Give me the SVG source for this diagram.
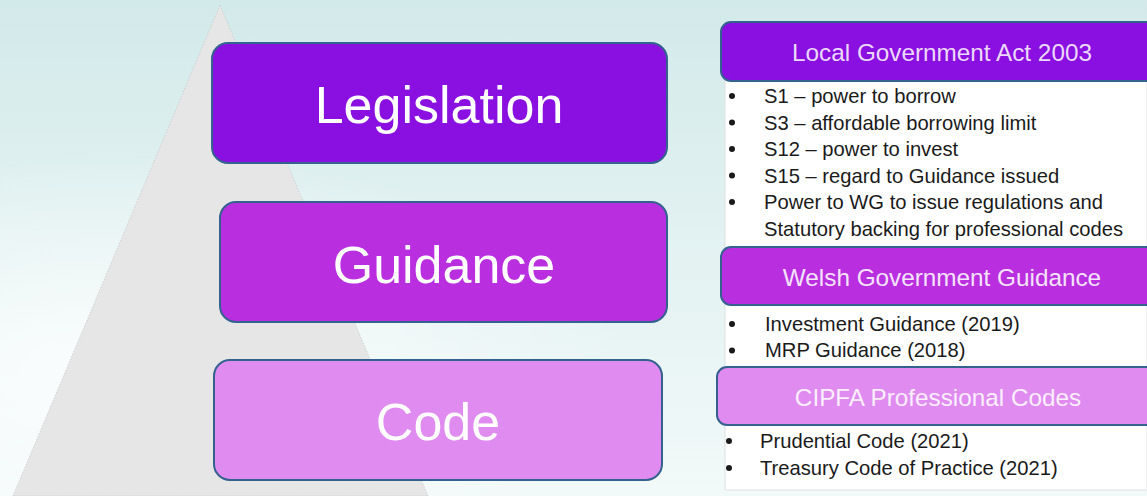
<svg xmlns="http://www.w3.org/2000/svg" width="1147" height="496" viewBox="0 0 1147 496">
<defs>
<linearGradient id="bg" x1="0" y1="0" x2="0" y2="1">
<stop offset="0" stop-color="#d3eaea"/>
<stop offset="0.6" stop-color="#e6f3f3"/>
<stop offset="1" stop-color="#f2f9f9"/>
</linearGradient>
<radialGradient id="glow" cx="0.1" cy="0.75" r="0.45">
<stop offset="0" stop-color="#ffffff" stop-opacity="0.8"/>
<stop offset="1" stop-color="#ffffff" stop-opacity="0"/>
</radialGradient>
<style>
.box{stroke:#33628f;stroke-width:2}
.lvl1{fill:#8a10e2}
.lvl2{fill:#b92fe0}
.lvl3{fill:#df8bf0}
.big{font-family:"Liberation Sans",Arial,sans-serif;font-size:52px;fill:#ffffff;text-anchor:middle}
.hdr{font-family:"Liberation Sans",Arial,sans-serif;font-size:24.3px;text-anchor:middle}
.item{font-family:"Liberation Sans",Arial,sans-serif;font-size:20.2px;fill:#1a1a1a}
.dot{fill:#1a1a1a}
</style>
</defs>
<rect width="1147" height="496" fill="url(#bg)"/>
<rect width="1147" height="496" fill="url(#glow)"/>
<polygon points="220,5 13,496 428,496" fill="#e6e6e6" stroke="#c8c8c8" stroke-width="0.8" stroke-dasharray="1.5,1.5"/>
<rect x="725" y="60" width="422" height="430" fill="#ffffff" stroke="#e0e0e0" stroke-width="1"/>

<g id="legislation">
<rect class="box lvl1" x="212" y="43" width="455" height="120" rx="16"/>
<text class="big" x="439" y="123">Legislation</text>
</g>
<g id="guidance">
<rect class="box lvl2" x="220" y="202" width="447" height="120" rx="16"/>
<text class="big" x="444" y="283">Guidance</text>
</g>
<g id="code">
<rect class="box lvl3" x="214" y="360" width="448" height="120" rx="16"/>
<text class="big" x="438" y="440">Code</text>
</g>

<g id="lga">
<rect class="box lvl1" x="721" y="22" width="440" height="59" rx="10"/>
<text class="hdr" x="942" y="61" fill="#ecd8fa">Local Government Act 2003</text>
<g class="dot">
<circle cx="732" cy="96" r="3"/><circle cx="732" cy="122.5" r="3"/><circle cx="732" cy="149" r="3"/>
<circle cx="732" cy="175.5" r="3"/><circle cx="732" cy="202" r="3"/>
</g>
<text class="item" x="764" y="103">S1 – power to borrow</text>
<text class="item" x="764" y="129.5">S3 – affordable borrowing limit</text>
<text class="item" x="764" y="156">S12 – power to invest</text>
<text class="item" x="764" y="182.5">S15 – regard to Guidance issued</text>
<text class="item" x="764" y="209">Power to WG to issue regulations and</text>
<text class="item" x="764" y="235.5">Statutory backing for professional codes</text>
</g>

<g id="wgg">
<rect class="box lvl2" x="721" y="247" width="440" height="58" rx="10"/>
<text class="hdr" x="942" y="286" fill="#f5e2fb">Welsh Government Guidance</text>
<circle class="dot" cx="732" cy="324" r="3"/><circle class="dot" cx="732" cy="350.5" r="3"/>
<text class="item" x="765" y="331">Investment Guidance (2019)</text>
<text class="item" x="765" y="357">MRP Guidance (2018)</text>
</g>

<g id="cipfa">
<rect class="box lvl3" x="717" y="367" width="444" height="58" rx="10"/>
<text class="hdr" x="938" y="406" fill="#fbeefe">CIPFA Professional Codes</text>
<circle class="dot" cx="729" cy="441" r="3"/><circle class="dot" cx="729" cy="468" r="3"/>
<text class="item" x="760" y="448">Prudential Code (2021)</text>
<text class="item" x="760" y="475">Treasury Code of Practice (2021)</text>
</g>
<g id="connectors"/>
</svg>
